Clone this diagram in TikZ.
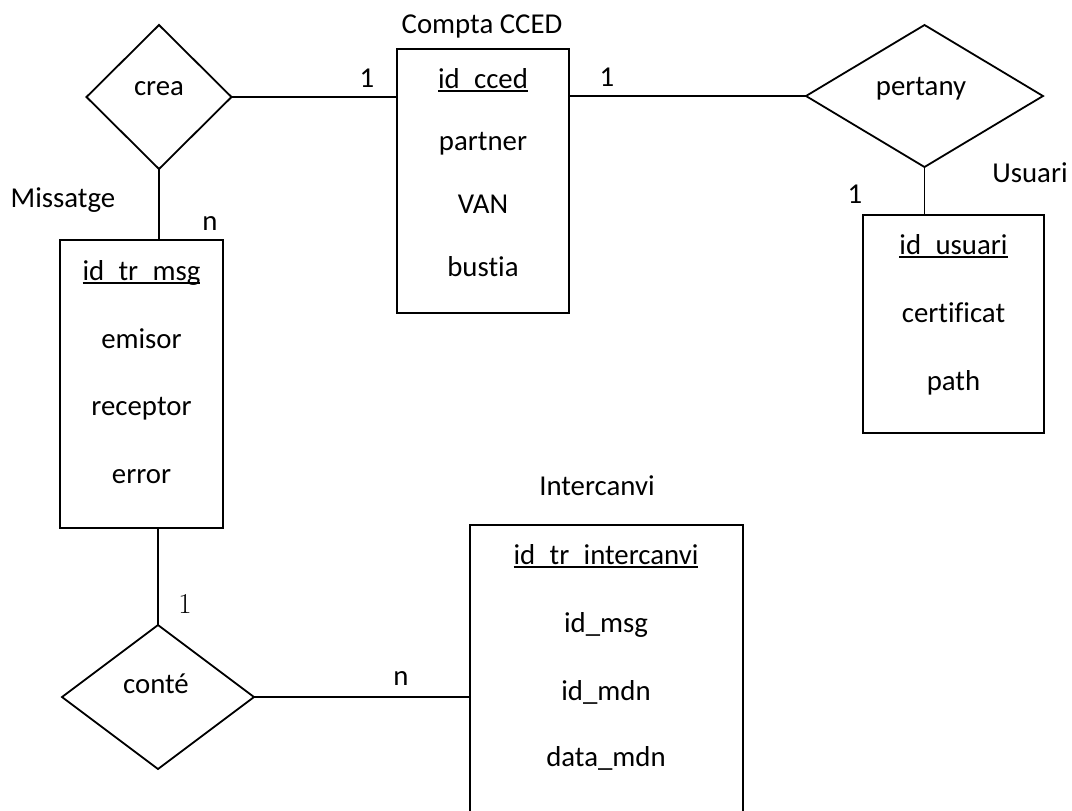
\documentclass[tikz,border=0pt]{standalone}
\usepackage{fontspec}
\setmainfont{Carlito}[Ligatures=NoCommon]
\newfontfamily\numfont{Latin Modern Roman}
\usetikzlibrary{shapes.geometric}

% primary-key attribute: underline drawn just below the baseline
\newcommand\keyattr[1]{\setbox0\hbox{#1}\rlap{\rule[-0.13em]{\wd0}{0.075em}}\box0}

\tikzset{
  txt/.style={font=\fontsize{14.4pt}{17pt}\selectfont, inner sep=0pt, anchor=base},
  entity/.style={draw, rectangle, line width=0.9pt, inner sep=0pt, outer sep=0pt},
  relation/.style={draw, diamond, line width=0.9pt, inner sep=0pt, outer sep=0pt},
  link/.style={line width=0.9pt},
}

\begin{document}
\begin{tikzpicture}[x=0.5pt, y=-0.5pt]
\useasboundingbox (0,0) rectangle (1072,810);
\clip (0,0) rectangle (1072,810);

% relationships
\node[relation, minimum width=72.5pt, minimum height=72pt] (crea) at (159,97) {};
\node[relation, minimum width=118.5pt, minimum height=71pt] (pertany) at (924.5,96) {};
\node[relation, minimum width=96pt, minimum height=72pt] (conte) at (158,697) {};
\node[txt] (crea-t) at (159,95) {crea};
\node[txt] (pertany-t) at (921,95) {pertany};
\node[txt] (conte-t) at (156,693) {conté};

% entities
\node[entity, minimum width=81.5pt, minimum height=144pt] (msg) at (141.5,384) {};
\node[entity, minimum width=86pt, minimum height=132pt] (cced) at (483,181) {};
\node[entity, minimum width=90.5pt, minimum height=109pt] (usr) at (953.5,324) {};
\node[entity, minimum width=136.5pt, minimum height=157.5pt] (inter) at (606.5,682.5) {};

% entity names
\node[txt] (msg-n) at (63,207) {Missatge};
\node[txt] (cced-n) at (482,33) {Compta CCED};
\node[txt] (usr-n) at (1030,182) {Usuari};
\node[txt] (inter-n) at (597,495) {Intercanvi};

% attributes
\node[txt] (msg-a1) at (141.5,280) {\keyattr{id\_tr\_msg}};
\node[txt] (msg-a2) at (141.5,348) {emisor};
\node[txt] (msg-a3) at (141.5,415.5) {receptor};
\node[txt] (msg-a4) at (141.5,483) {error};

\node[txt] (cced-a1) at (483,88) {\keyattr{id\_cced}};
\node[txt] (cced-a2) at (483,150.5) {partner};
\node[txt] (cced-a3) at (483,213) {VAN};
\node[txt] (cced-a4) at (483,276) {bustia};

\node[txt] (usr-a1) at (953.5,254) {\keyattr{id\_usuari}};
\node[txt] (usr-a2) at (953.5,322) {certificat};
\node[txt] (usr-a3) at (953.5,390) {path};

\node[txt] (inter-a1) at (606,564) {\keyattr{id\_tr\_intercanvi}};
\node[txt] (inter-a2) at (606,632) {id\_msg};
\node[txt] (inter-a3) at (606,700) {id\_mdn};
\node[txt] (inter-a4) at (606,766) {data\_mdn};

% connectors
\draw[link] (crea.east) -- (crea.east -| cced.west);
\draw[link] (pertany.west -| cced.east) -- (pertany.west);
\draw[link] (pertany.south) -- (pertany.south |- usr.north);
\draw[link] (crea.south) -- (crea.south |- msg.north);
\draw[link] (conte.north |- msg.south) -- (conte.north);
\draw[link] (conte.east) -- (conte.east -| inter.west);

% cardinalities
\node[txt] (c1) at (367,87) {1};
\node[txt] (c2) at (607,86) {1};
\node[txt] (c3) at (855,203) {1};
\node[txt] (c4) at (210,230) {n};
\node[txt, font=\numfont\fontsize{14.4pt}{17pt}\selectfont] (c5) at (185,613) {1};
\node[txt] (c6) at (401,685) {n};
\end{tikzpicture}
\end{document}
